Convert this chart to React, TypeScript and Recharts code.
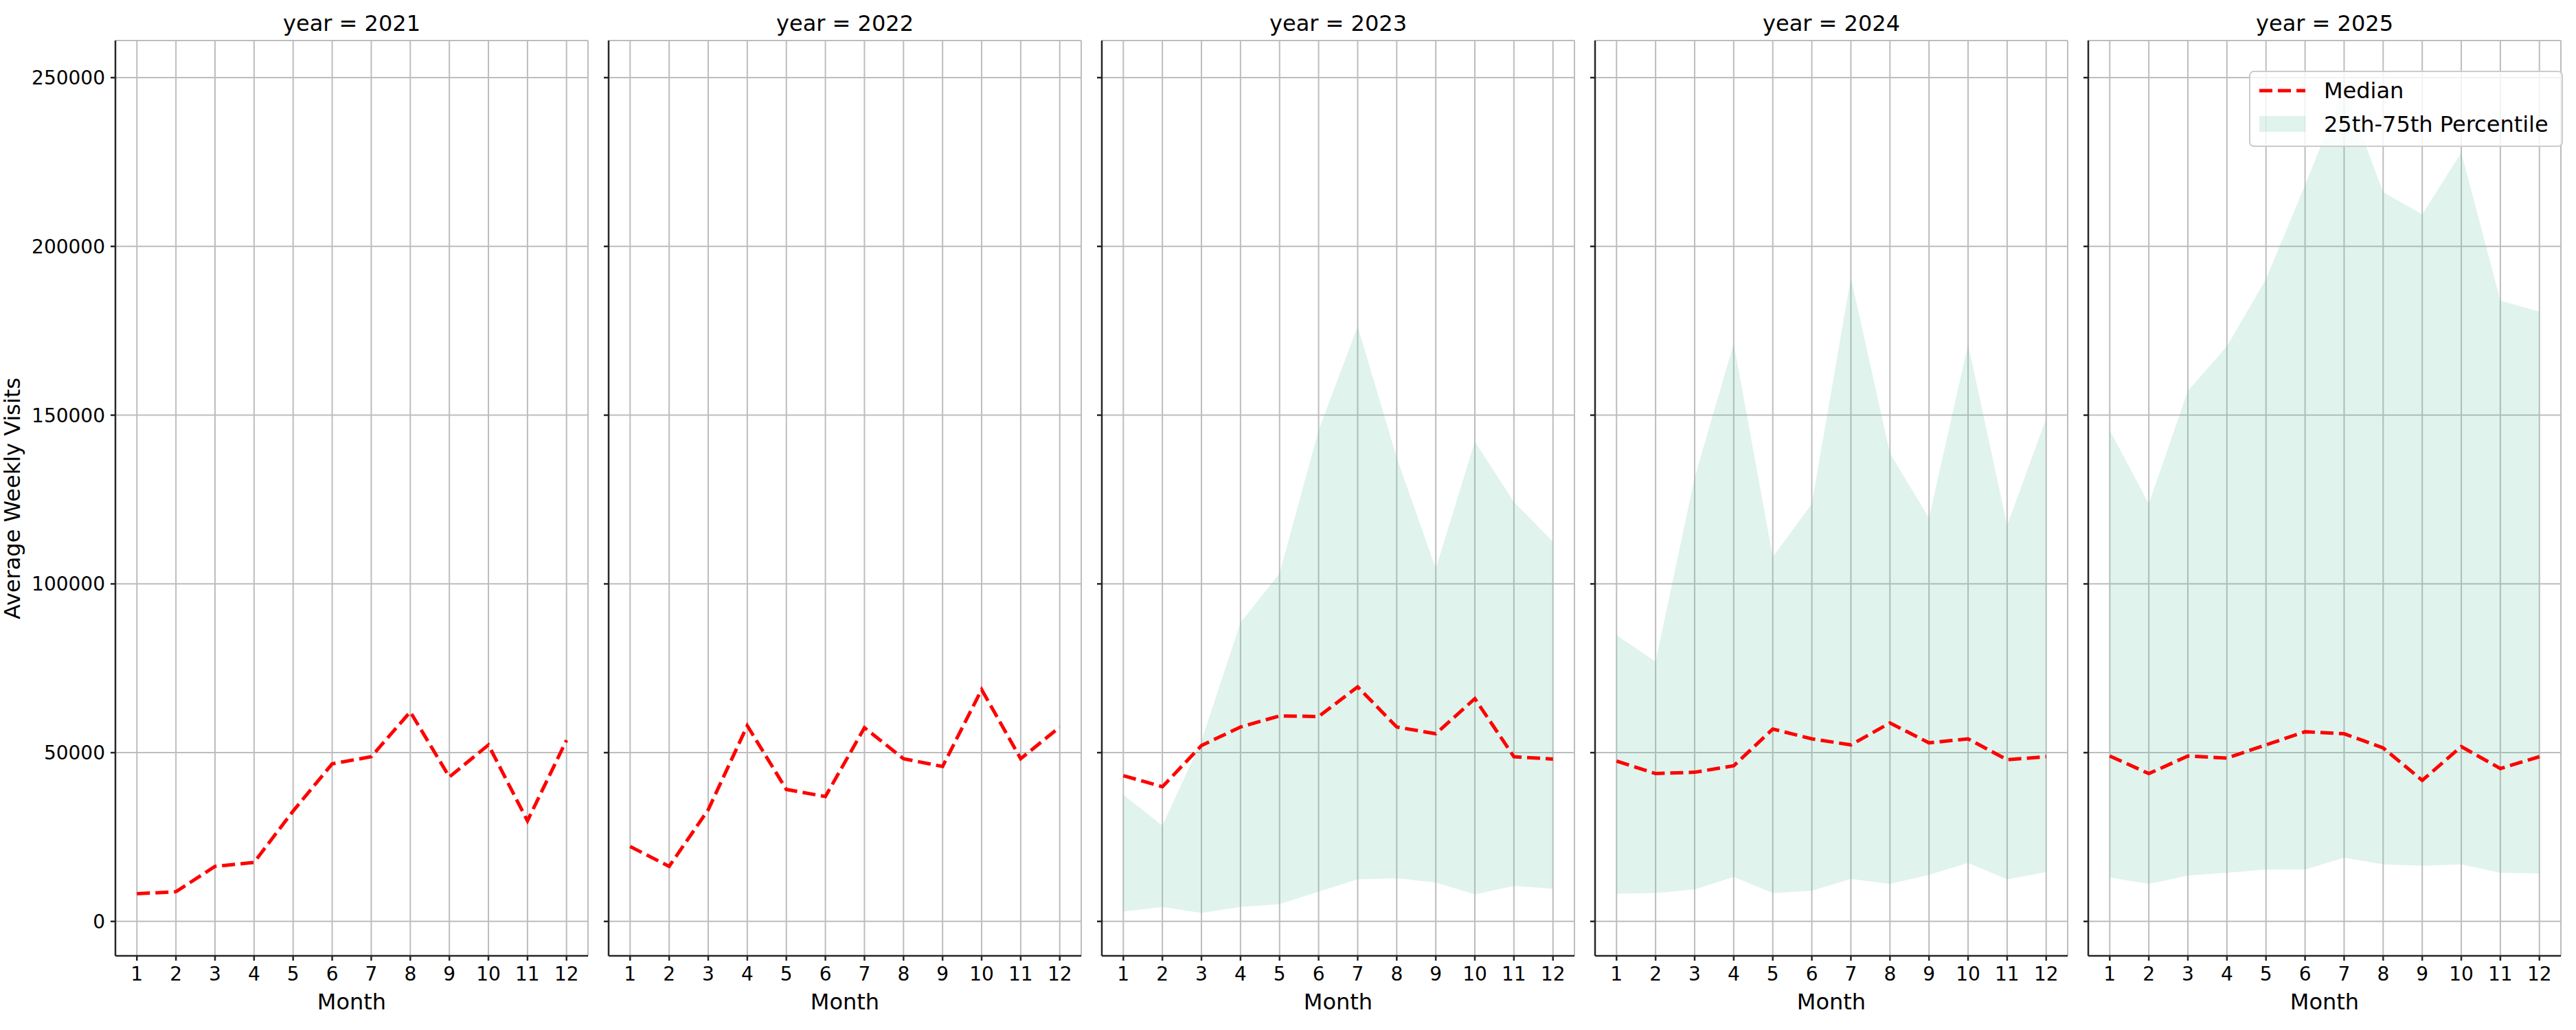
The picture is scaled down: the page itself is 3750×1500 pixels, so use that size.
import { ComposedChart, Line, Area, XAxis, YAxis, CartesianGrid } from 'recharts'

// months on the x axis
const months = [1, 2, 3, 4, 5, 6, 7, 8, 9, 10, 11, 12]
const years = [2021, 2022, 2023, 2024, 2025]
const yTicks = [0, 50000, 100000, 150000, 200000, 250000]

// median of average weekly visits, per year
const median2021 = [8200, 8800, 16300, 17500, 32700, 46700, 48800, 62100, 42800, 52300, 29800, 53700]
const median2022 = [22200, 16300, 33100, 58000, 39100, 37000, 57400, 48200, 45900, 68700, 48200, 57600]
const median2023 = [43200, 39900, 52100, 57600, 60900, 60700, 69500, 57600, 55600, 66000, 48800, 48100]
const median2024 = [47500, 43800, 44200, 46100, 57000, 54100, 52300, 58800, 52900, 54100, 47900, 48800]
const median2025 = [49000, 43800, 49000, 48400, 52300, 56200, 55600, 51400, 41800, 51800, 45300, 48800]

// 25th / 75th percentile band (no band before 2023)
const q25_2023 = [2900, 4300, 2500, 4300, 5100, 8800, 12500, 12800, 11500, 8000, 10500, 9700]
const q75_2023 = [37500, 28400, 53500, 88500, 103100, 145500, 176300, 137400, 104500, 142200, 124300, 112500]
const q25_2024 = [8200, 8400, 9500, 13200, 8400, 9100, 12600, 11100, 13800, 17300, 12500, 14600]
const q75_2024 = [84800, 77000, 131500, 171200, 108000, 123700, 190700, 138700, 119500, 171000, 117300, 149000]
const q25_2025 = [13000, 11100, 13600, 14400, 15400, 15400, 18900, 16900, 16500, 16900, 14400, 14200]
const q75_2025 = [145500, 123700, 157200, 170400, 190300, 218100, 247000, 216100, 209500, 227800, 183900, 180700]

const medians = [median2021, median2022, median2023, median2024, median2025]
const q25s = [null, null, q25_2023, q25_2024, q25_2025]
const q75s = [null, null, q75_2023, q75_2024, q75_2025]

const FONT = 'DejaVu Sans'
const PANEL_LEFT = [168, 886, 1604, 2322, 3040]
const PLOT_W = 688
const BAND = '#66c2a5'

function Panel({ idx }: { idx: number }) {
  const q25 = q25s[idx]
  const q75 = q75s[idx]
  const data = months.map((m, i) => ({
    month: m,
    median: medians[idx][i],
    band: q25 && q75 ? [q25[i], q75[i]] : null,
  }))
  const first = idx === 0
  const yw = first ? 168 : 100

  return (
    <div style={{ position: 'absolute', left: PANEL_LEFT[idx] - yw, top: 0 }}>
      <ComposedChart
        width={yw + PLOT_W + 20}
        height={1500}
        data={data}
        margin={{ top: 59, right: 20, bottom: 0, left: 0 }}
      >
        <CartesianGrid stroke="#bdbdbd" strokeWidth={2} />
        <XAxis
          dataKey="month"
          type="number"
          domain={[0.45, 12.55]}
          ticks={months}
          interval={0}
          allowDataOverflow
          height={108}
          tickSize={7}
          tickMargin={9}
          stroke="#262626"
          strokeWidth={2.5}
          tick={{ fill: '#000', fontSize: 28, fontFamily: FONT }}
          label={{
            content: (props: any) => {
              const vb = props.viewBox
              return (
                <text x={vb.x + vb.width / 2} y={vb.y + 78} textAnchor="middle" fontSize={32} fontFamily={FONT} fill="#000">
                  Month
                </text>
              )
            },
          }}
        />
        <YAxis
          type="number"
          domain={[-10200, 261000]}
          ticks={yTicks}
          interval={0}
          allowDataOverflow
          width={yw}
          tickSize={7}
          tickMargin={8}
          stroke="#262626"
          strokeWidth={2.5}
          tick={first ? { fill: '#000', fontSize: 28, fontFamily: FONT } : () => <g />}
        />
        {q25 && (
          <Area
            dataKey="band"
            type="linear"
            stroke="none"
            fill={BAND}
            fillOpacity={0.2}
            dot={false}
            activeDot={false}
            isAnimationActive={false}
          />
        )}
        <Line
          dataKey="median"
          type="linear"
          stroke="#ff0000"
          strokeWidth={5}
          strokeDasharray="19 8"
          dot={false}
          activeDot={false}
          isAnimationActive={false}
        />
      </ComposedChart>
    </div>
  )
}

export default function App() {
  return (
    <div style={{ position: 'absolute', left: 0, top: 0, width: 3750, height: 1500, background: '#fff' }}>
      {years.map((y, i) => (
        <Panel key={y} idx={i} />
      ))}
      <svg
        width={3750}
        height={1500}
        style={{ position: 'absolute', left: 0, top: 0, pointerEvents: 'none' }}
        fontFamily={FONT}
      >
        {years.map((y, i) => (
          <text key={y} x={PANEL_LEFT[i] + PLOT_W / 2} y={45} textAnchor="middle" fontSize={32} fill="#000">
            {`year = ${y}`}
          </text>
        ))}
        <text transform="translate(29,726) rotate(-90)" textAnchor="middle" fontSize={32} fill="#000">
          Average Weekly Visits
        </text>
        {/* legend, upper right of the last panel */}
        <rect x={3275} y={104} width={455} height={109} rx={6} fill="#fff" fillOpacity={0.8} stroke="#cccccc" strokeWidth={2} />
        <line x1={3289} x2={3356} y1={132} y2={132} stroke="#ff0000" strokeWidth={5} strokeDasharray="19 8" />
        <text x={3383} y={143} fontSize={32} fill="#000">Median</text>
        <rect x={3289} y={169} width={67} height={23} fill={BAND} fillOpacity={0.2} />
        <text x={3383} y={192} fontSize={32} fill="#000">25th-75th Percentile</text>
      </svg>
    </div>
  )
}
